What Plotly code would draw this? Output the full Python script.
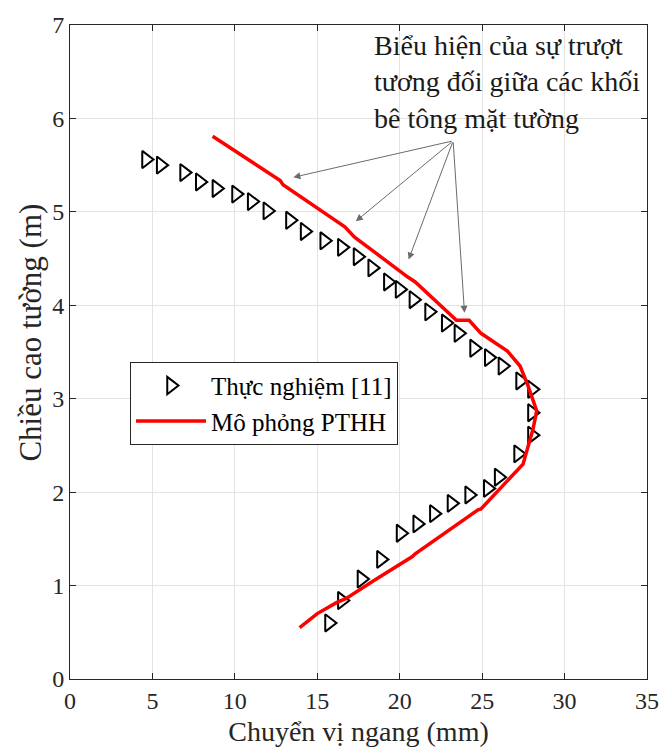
import plotly.graph_objects as go

# Experimental data (Thực nghiệm [11])
exp_x = [4.61, 5.50, 6.92, 7.87, 8.88, 10.07, 11.02, 11.97, 13.34, 14.23, 15.42, 16.49,
         17.44, 18.33, 19.28, 19.99, 20.83, 21.78, 22.79, 23.56, 24.51, 25.40, 26.23,
         27.30, 28.02, 28.02, 28.02, 27.18, 26.00, 25.34, 24.21, 23.14, 22.07, 21.06,
         20.05, 18.86, 17.68, 16.49, 15.71]
exp_y = [5.56, 5.50, 5.42, 5.32, 5.25, 5.19, 5.11, 5.01, 4.91, 4.79, 4.69, 4.62,
         4.52, 4.40, 4.25, 4.17, 4.06, 3.93, 3.81, 3.70, 3.54, 3.44, 3.35,
         3.19, 3.10, 2.85, 2.61, 2.41, 2.16, 2.04, 1.97, 1.88, 1.77, 1.66,
         1.56, 1.28, 1.07, 0.84, 0.60]

# FEM simulation (Mô phỏng PTHH)
fem_x = [8.65, 12.75, 12.92, 16.67, 17.26, 20.17, 20.47, 20.94, 23.44, 24.21, 24.93,
         26.53, 27.30, 27.78, 28.31, 28.08, 27.72, 27.48, 24.93, 24.75, 20.94, 20.77,
         18.39, 16.73, 16.19, 15.00, 13.93]
fem_y = [5.81, 5.335, 5.29, 4.84, 4.73, 4.34, 4.305, 4.25, 3.84, 3.84, 3.70,
         3.51, 3.35, 3.14, 2.87, 2.67, 2.43, 2.30, 1.82, 1.81, 1.34, 1.31,
         1.05, 0.86, 0.82, 0.70, 0.55]

# Annotation arrows (heads) and common tail
arrow_x = [13.55, 17.34, 20.54, 23.93]
arrow_y = [5.37, 4.90, 4.49, 3.92]
tail_x, tail_y = 23.24, 5.76

note_text = "Biểu hiện của sự trượt<br>tương đối giữa các khối<br>bê tông mặt tường"
x_title = "Chuyển vị ngang (mm)"
y_title = "Chiều cao tường (m)"

FONT = "Liberation Serif"
INK = "#262626"

fig = go.Figure()
fig.add_trace(go.Scatter(
    x=exp_x, y=exp_y, mode="markers", name="Thực nghiệm [11]",
    marker=dict(symbol="triangle-right-open", size=15, color="black",
                line=dict(width=2, color="black")),
))
fig.add_trace(go.Scatter(
    x=fem_x, y=fem_y, mode="lines", name="Mô phỏng PTHH",
    line=dict(color="#ff0000", width=3.5),
))

annotations = []
for hx, hy in zip(arrow_x, arrow_y):
    annotations.append(dict(
        x=hx, y=hy, ax=tail_x, ay=tail_y, xref="x", yref="y", axref="x", ayref="y",
        text="", showarrow=True, arrowhead=2, arrowsize=1.4, arrowwidth=1,
        arrowcolor="#6b6b6b", standoff=0, startstandoff=0,
    ))
annotations.append(dict(
    x=0.523, y=0.995, xref="paper", yref="paper", xanchor="left", yanchor="top",
    text=note_text, showarrow=False, align="left",
    font=dict(family=FONT, size=28, color="#1a1a1a"),
))
# y-axis title as rotated annotation (sized/positioned as in the reference)
annotations.append(dict(
    x=-0.069, y=0.53, xref="paper", yref="paper", xanchor="center", yanchor="middle",
    text=y_title, showarrow=False, textangle=-90,
    font=dict(family=FONT, size=31, color=INK),
))

axis_common = dict(
    showline=True, linecolor=INK, linewidth=1, mirror="ticks",
    ticks="inside", ticklen=6, tickcolor=INK, tickwidth=1,
    showgrid=True, gridcolor="#e3e3e3", gridwidth=1, zeroline=False,
    tickfont=dict(family=FONT, size=24, color=INK),
)

fig.update_layout(
    width=671, height=756,
    margin=dict(l=70, r=13, t=19, b=77),
    paper_bgcolor="white", plot_bgcolor="white",
    xaxis=dict(range=[0, 35], dtick=5, tick0=0,
               title=dict(text=x_title, standoff=8,
                          font=dict(family=FONT, size=28, color=INK)),
               **axis_common),
    yaxis=dict(range=[0, 7], dtick=1, tick0=0, **axis_common),
    legend=dict(x=0.104, y=0.485, xanchor="left", yanchor="top",
                bgcolor="white", bordercolor=INK, borderwidth=1,
                font=dict(family=FONT, size=25, color="black"),
                itemwidth=70, tracegroupgap=0),
    showlegend=True,
    annotations=annotations,
)

fig.write_html("out.html")
